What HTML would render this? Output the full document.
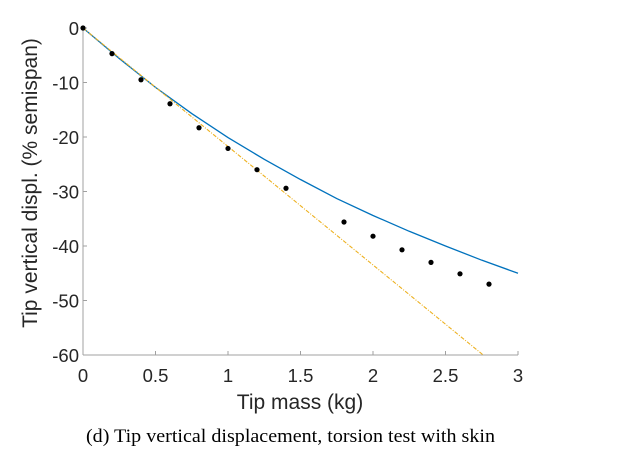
<!DOCTYPE html>
<html><head><meta charset="utf-8"><style>
html,body{margin:0;padding:0;background:#fff;}
svg{display:block;}
</style></head><body>
<svg id="chart" width="626" height="460" viewBox="0 0 626 460" xmlns="http://www.w3.org/2000/svg">
<g id="axes"></g>
<g id="series"></g>
<text x="37" y="183" transform="rotate(-90 37 183)" text-anchor="middle" font-family="Liberation Sans, sans-serif" font-size="21" fill="#262626">Tip vertical displ. (% semispan)</text>
<text x="300" y="409" text-anchor="middle" font-family="Liberation Sans, sans-serif" font-size="21" fill="#262626">Tip mass (kg)</text>
<text x="86" y="442" textLength="409" lengthAdjust="spacingAndGlyphs" font-family="Liberation Serif, serif" font-size="19" fill="#000">(d)  Tip vertical displacement, torsion test with skin</text>
</svg>
<script>
const xTicks=[0,0.5,1,1.5,2,2.5,3];
const xTickLabels=["0","0.5","1","1.5","2","2.5","3"];
const yTicks=[0,-10,-20,-30,-40,-50,-60];
const yTickLabels=["0","-10","-20","-30","-40","-50","-60"];
const expX=[0,0.2,0.4,0.6,0.8,1.0,1.2,1.4,1.8,2.0,2.2,2.4,2.6,2.8];
const expY=[0,-4.7,-9.5,-13.9,-18.3,-22.1,-26,-29.4,-35.6,-38.2,-40.7,-43,-45.1,-47];
const nlX=[0,0.25,0.5,0.75,1,1.25,1.5,1.75,2,2.25,2.5,2.75,3];
const nlY=[0,-5.6,-10.9,-15.7,-20.1,-24.1,-27.8,-31.3,-34.4,-37.3,-40.0,-42.6,-45];
const linX=[0,2.76];
const linY=[0,-60];

const X0=83,X1=518,Y0=28,Y1=355;
const sx=v=>X0+(v-0)/(3-0)*(X1-X0);
const sy=v=>Y0+(0-v)/(60)*(Y1-Y0);
const NS="http://www.w3.org/2000/svg";
const ax=document.getElementById('axes'), se=document.getElementById('series');
function mk(t,a,p){const e=document.createElementNS(NS,t);for(const k in a)e.setAttribute(k,a[k]);p.appendChild(e);return e;}
let l=mk('line',{x1:X0,y1:Y1,x2:X1,y2:Y1,stroke:'#a0a0a0','stroke-width':1},ax);


l=mk('line',{x1:X0,y1:Y0,x2:X0,y2:Y1,stroke:'#a0a0a0','stroke-width':1},ax);


xTicks.forEach((v,i)=>{
 const t=mk('line',{x1:sx(v),y1:Y1,x2:sx(v),y2:Y1-4,stroke:'#a0a0a0'},ax);
 
 
 const tx=mk('text',{x:sx(v),y:382,'text-anchor':'middle','font-family':'Liberation Sans, sans-serif','font-size':18.5,fill:'#262626'},ax);
 tx.textContent=xTickLabels[i];
 
 
});
yTicks.forEach((v,i)=>{
 const t=mk('line',{x1:X0,y1:sy(v),x2:X0+4,y2:sy(v),stroke:'#a0a0a0'},ax);
 
 
 const tx=mk('text',{x:79,y:sy(v)+7,'text-anchor':'end','font-family':'Liberation Sans, sans-serif','font-size':18.5,fill:'#262626'},ax);
 tx.textContent=yTickLabels[i];
 
 
});
const nl=mk('polyline',{points:nlX.map((x,i)=>sx(x)+','+sy(nlY[i])).join(' '),fill:'none',stroke:'#0072BD','stroke-width':1.3},se);


const ln=mk('polyline',{points:linX.map((x,i)=>sx(x)+','+sy(linY[i])).join(' '),fill:'none',stroke:'#EDB120','stroke-width':1.1,'stroke-dasharray':'4,1.5,1,1.5'},se);


expX.forEach((x,i)=>{
 const c=mk('circle',{cx:sx(x),cy:sy(expY[i]),r:2.6,fill:'#000'},se);
 
 
});
</script>
</body></html>
